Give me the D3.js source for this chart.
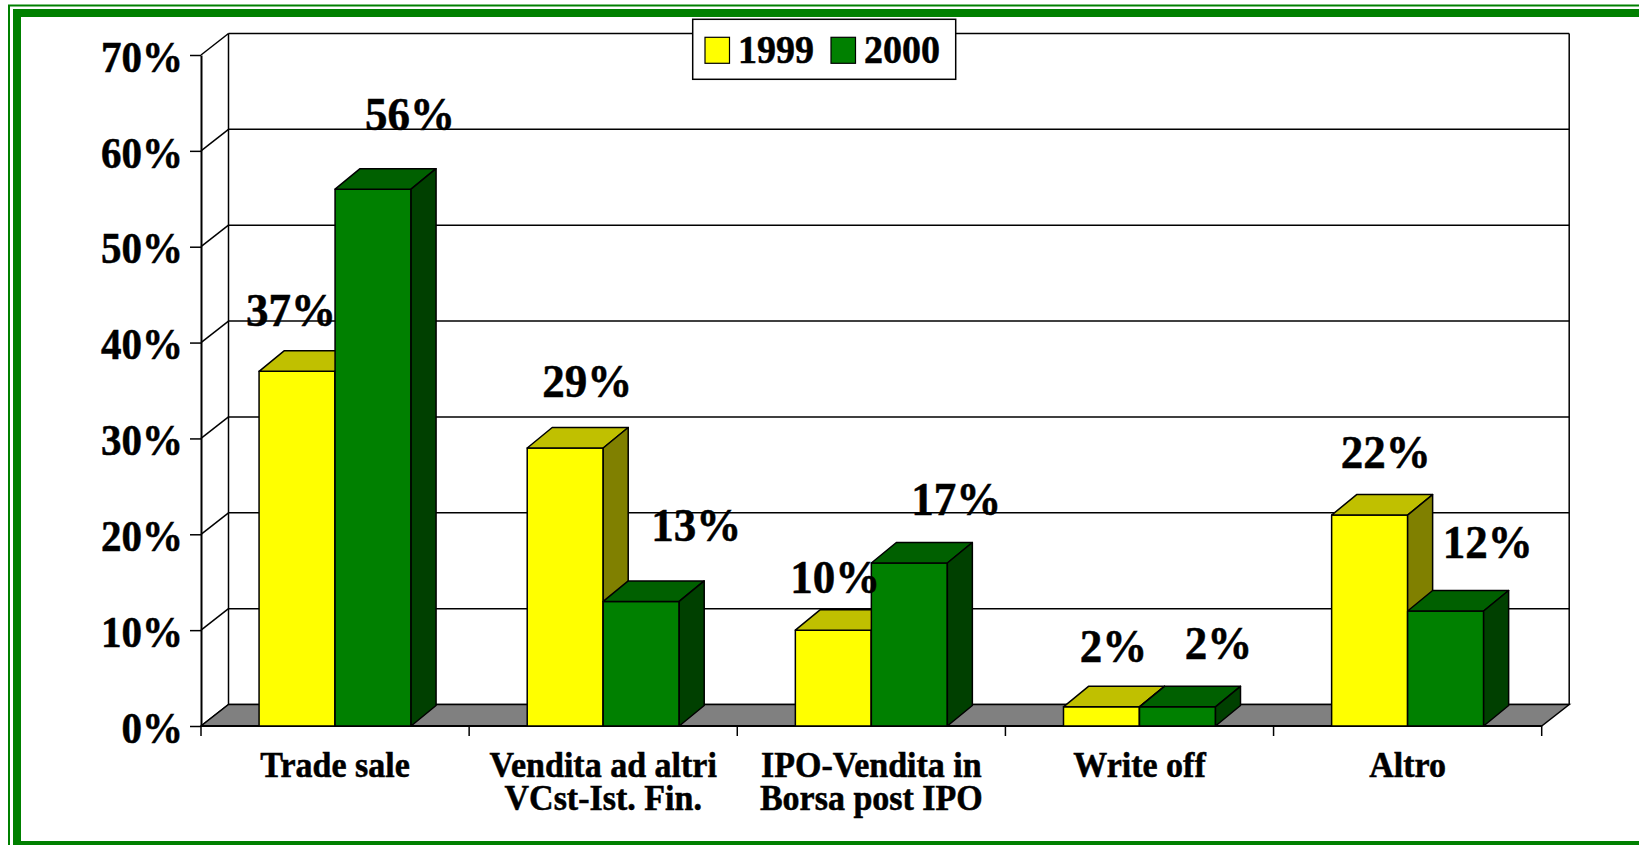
<!DOCTYPE html>
<html>
<head>
<meta charset="utf-8">
<style>
  html,body{margin:0;padding:0;background:#fff;}
  svg{display:block;}
  text{font-family:"Liberation Serif","Times New Roman",serif;font-weight:bold;fill:#000;stroke:#000;stroke-width:0.5px;}
</style>
</head>
<body>
<svg id="chart" width="1639" height="845"></svg>
<script src="https://cdn.jsdelivr.net/npm/d3@7"></script>
<script>
// data
const categories = ["Trade sale", "Vendita ad altri\nVCst-Ist. Fin.", "IPO-Vendita in\nBorsa post IPO", "Write off", "Altro"];
const series = ["1999", "2000"];
const values1999 = [0.37, 0.29, 0.10, 0.02, 0.22];
const values2000 = [0.56, 0.13, 0.17, 0.02, 0.12];
const yTicks = [0, 0.1, 0.2, 0.3, 0.4, 0.5, 0.6, 0.7];

// layout
const lay = {
  x0: 201, x1: 1541.7, y0: 726, y1: 55,
  wallDx: 27.5, wallDy: -21.5,
  barDx: 25, barDy: -20.5, groupW: 152
};
// Excel's label placement is irregular, nudges per bar (x shift, gap above bar top)
const labelNudge = {
  "1999": {dx: [-6, 22, 2, 12, 16], gap: [25, 31, 17, 24, 27]},
  "2000": {dx: [37, 55, 47, 41, 42], gap: [39, 40, 28, 27, 32]}
};
const colors = {
  "1999": {front: "#FFFF00", top: "#C0C000", side: "#808000"},
  "2000": {front: "#008000", top: "#006000", side: "#004000"}
};
const valuesBy = {"1999": values1999, "2000": values2000};

const svg = d3.select("#chart");

const y = d3.scaleLinear().domain([0, 0.7]).range([lay.y0, lay.y1]);
const x = d3.scaleBand().domain(categories).range([lay.x0, lay.x1]);
const xs = d3.scaleBand().domain(series).range([0, lay.groupW]);
const fmt = d3.format(".0%");

// frame
svg.append("rect").attr("x", 9).attr("y", 5.5).attr("width", 1700).attr("height", 860)
  .attr("fill", "none").attr("stroke", "#008000").attr("stroke-width", 2);
svg.append("rect").attr("x", 17).attr("y", 13).attr("width", 1700).attr("height", 832)
  .attr("fill", "none").attr("stroke", "#008000").attr("stroke-width", 8);

// walls
const wall = svg.append("g").attr("stroke", "#000").attr("stroke-width", 1.5).attr("fill", "none");
const bx0 = lay.x0 + lay.wallDx, bx1 = lay.x1 + lay.wallDx;
wall.selectAll("line.grid").data(yTicks).join("line").attr("class", "grid")
  .attr("x1", bx0).attr("x2", bx1)
  .attr("y1", d => y(d) + lay.wallDy).attr("y2", d => y(d) + lay.wallDy);
wall.selectAll("line.side").data(yTicks).join("line").attr("class", "side")
  .attr("x1", lay.x0).attr("x2", bx0)
  .attr("y1", d => y(d)).attr("y2", d => y(d) + lay.wallDy);
wall.append("line").attr("x1", bx0).attr("x2", bx0).attr("y1", y(0.7) + lay.wallDy).attr("y2", y(0) + lay.wallDy);
wall.append("line").attr("x1", bx1).attr("x2", bx1).attr("y1", y(0.7) + lay.wallDy).attr("y2", y(0) + lay.wallDy);

// floor
svg.append("path")
  .attr("d", `M${lay.x0},${y(0)}L${lay.x1},${y(0)}L${bx1},${y(0) + lay.wallDy}L${bx0},${y(0) + lay.wallDy}Z`)
  .attr("fill", "#808080").attr("stroke", "#000").attr("stroke-width", 1.5);

// y axis
const yAxis = svg.append("g").attr("transform", `translate(${lay.x0},0)`)
  .call(d3.axisLeft(y).tickValues(yTicks).tickFormat(fmt).tickSize(11).tickPadding(7).tickSizeOuter(0));
yAxis.attr("font-family", null).attr("font-size", null);
yAxis.select(".domain").attr("stroke", "#000").attr("stroke-width", 2);
yAxis.selectAll(".tick line").attr("stroke", "#000").attr("stroke-width", 1.5);
yAxis.selectAll(".tick text")
  .attr("fill", null)
  .style("font-size", "41px").attr("dy", "0.37em")
  .attr("transform", "scale(1,1.07)");

// x axis line + ticks at category boundaries
svg.append("line").attr("x1", lay.x0).attr("x2", lay.x1).attr("y1", y(0)).attr("y2", y(0))
  .attr("stroke", "#000").attr("stroke-width", 2.2);
const bounds = categories.map(c => x(c)).concat([x.range()[1]]);
svg.selectAll("line.xtick").data(bounds).join("line").attr("class", "xtick")
  .attr("x1", d => d).attr("x2", d => d).attr("y1", y(0)).attr("y2", y(0) + 10)
  .attr("stroke", "#000").attr("stroke-width", 1.5);

// bars
const rows = [];
categories.forEach((c, i) => series.forEach(s => rows.push({c, i, s, v: valuesBy[s][i]})));
const barX = d => x(d.c) + (x.bandwidth() - lay.groupW) / 2 + xs(d.s);
const bw = xs.bandwidth();

const bars = svg.append("g").selectAll("g").data(rows).join("g")
  .attr("stroke", "#000").attr("stroke-width", 1.5).attr("stroke-linejoin", "round");
bars.append("rect")
  .attr("x", barX).attr("y", d => y(d.v)).attr("width", bw).attr("height", d => y(0) - y(d.v))
  .attr("fill", d => colors[d.s].front);
bars.append("path")
  .attr("d", d => {
    const x0 = barX(d), t = y(d.v);
    return `M${x0},${t}L${x0 + lay.barDx},${t + lay.barDy}L${x0 + bw + lay.barDx},${t + lay.barDy}L${x0 + bw},${t}Z`;
  })
  .attr("fill", d => colors[d.s].top);
bars.append("path")
  .attr("d", d => {
    const x1 = barX(d) + bw, t = y(d.v), b = y(0);
    return `M${x1},${t}L${x1 + lay.barDx},${t + lay.barDy}L${x1 + lay.barDx},${b + lay.barDy}L${x1},${b}Z`;
  })
  .attr("fill", d => colors[d.s].side);

// value labels
svg.append("g").selectAll("text").data(rows).join("text")
  .attr("text-anchor", "middle")
  .attr("transform", d => {
    const cx = barX(d) + bw / 2 + labelNudge[d.s].dx[d.i];
    const by = y(d.v) + lay.barDy - labelNudge[d.s].gap[d.i];
    return `translate(${cx},${by}) scale(1,1.04)`;
  })
  .style("font-size", "45px")
  .text(d => fmt(d.v));

// category labels
const catG = svg.append("g").selectAll("text").data(categories).join("text")
  .attr("text-anchor", "middle")
  .attr("transform", d => `translate(${x(d) + x.bandwidth() / 2},777) scale(1,1.08)`)
  .style("font-size", "34px");
catG.selectAll("tspan").data(d => d.split("\n")).join("tspan")
  .attr("x", 0).attr("dy", (d, i) => i ? 31 : 0).text(d => d);

// legend
const leg = svg.append("g");
leg.append("rect").attr("x", 692.7).attr("y", 19.3).attr("width", 263).attr("height", 60)
  .attr("fill", "#fff").attr("stroke", "#000").attr("stroke-width", 1.5);
const legX = d3.scaleOrdinal().domain(series).range([705, 831]);
leg.selectAll("rect.sw").data(series).join("rect").attr("class", "sw")
  .attr("x", d => legX(d)).attr("y", 37.3).attr("width", 24.5).attr("height", 26)
  .attr("fill", d => colors[d].front).attr("stroke", "#000").attr("stroke-width", 1.2);
leg.selectAll("text").data(series).join("text")
  .attr("transform", d => `translate(${legX(d) + 33},63) scale(1,1.06)`)
  .style("font-size", "38px")
  .text(d => d);
</script>
</body>
</html>
